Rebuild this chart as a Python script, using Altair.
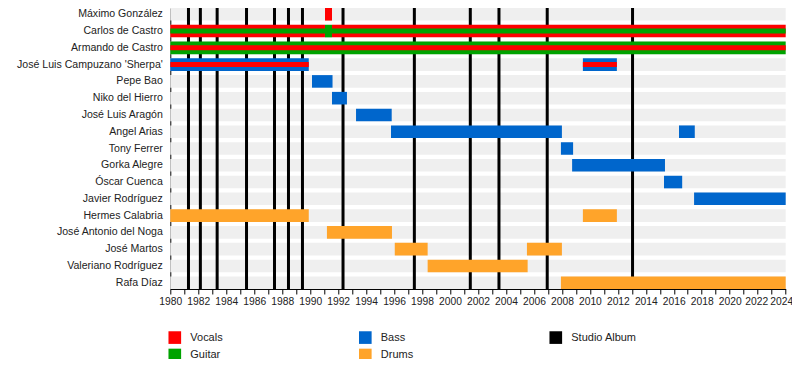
import altair as alt
import pandas as pd

members = [
    "Máximo González", "Carlos de Castro", "Armando de Castro",
    "José Luis Campuzano 'Sherpa'", "Pepe Bao", "Niko del Hierro",
    "José Luis Aragón", "Angel Arias", "Tony Ferrer", "Gorka Alegre",
    "Óscar Cuenca", "Javier Rodríguez", "Hermes Calabria",
    "José Antonio del Noga", "José Martos", "Valeriano Rodríguez", "Rafa Díaz",
]

# main (full height) bars
bar_member = [
    "Máximo González", "Carlos de Castro", "Carlos de Castro", "Carlos de Castro",
    "Armando de Castro", "José Luis Campuzano 'Sherpa'", "José Luis Campuzano 'Sherpa'",
    "Pepe Bao", "Niko del Hierro", "José Luis Aragón", "Angel Arias", "Angel Arias",
    "Tony Ferrer", "Gorka Alegre", "Óscar Cuenca", "Javier Rodríguez",
    "Hermes Calabria", "Hermes Calabria", "José Antonio del Noga",
    "José Martos", "José Martos", "Valeriano Rodríguez", "Rafa Díaz",
]
bar_role = [
    "Vocals", "Vocals", "Guitar", "Vocals",
    "Guitar", "Bass", "Bass",
    "Bass", "Bass", "Bass", "Bass", "Bass",
    "Bass", "Bass", "Bass", "Bass",
    "Drums", "Drums", "Drums",
    "Drums", "Drums", "Drums", "Drums",
]
bar_start = [
    1991.06, 1980.0, 1991.06, 1991.56,
    1980.0, 1980.0, 2009.5,
    1990.13, 1991.56, 1993.28, 1995.78, 2016.37,
    2007.93, 2008.73, 2015.3, 2017.45,
    1980.0, 2009.5, 1991.2,
    1996.05, 2005.5, 1998.4, 2007.93,
]
bar_end = [
    1991.56, 1991.06, 1991.56, 2024.0,
    2024.0, 1989.9, 2011.93,
    1991.6, 1992.63, 1995.83, 2008.0, 2017.5,
    2008.8, 2015.37, 2016.6, 2024.0,
    1989.9, 2011.93, 1995.85,
    1998.4, 2008.0, 2005.55, 2024.0,
]

# secondary (thin, centred) bars
thin_member = [
    "Carlos de Castro", "Armando de Castro",
    "José Luis Campuzano 'Sherpa'", "José Luis Campuzano 'Sherpa'",
]
thin_role = ["Guitar", "Vocals", "Vocals", "Vocals"]
thin_start = [1980.0, 1980.0, 1980.0, 2009.5]
thin_end = [2024.0, 2024.0, 1989.9, 2011.93]

albums = [1981.3, 1982.15, 1983.35, 1985.45, 1987.45, 1988.45, 1989.45,
          1992.35, 1997.45, 2001.45, 2003.5, 2006.95, 2013.05]

roles = ["Vocals", "Guitar", "Bass", "Drums", "Studio Album"]
role_colors = ["#ff0000", "#00a300", "#0066cc", "#ffa42a", "#000000"]

year_start, year_end = 1980, 2024
label_years = list(range(year_start, year_end + 1, 2))
tick_years = list(range(year_start, year_end + 1))

bg_df = pd.DataFrame({"member": members, "start": year_start, "end": year_end})
bar_df = pd.DataFrame({"member": bar_member, "role": bar_role, "start": bar_start, "end": bar_end})
thin_df = pd.DataFrame({"member": thin_member, "role": thin_role, "start": thin_start, "end": thin_end})
album_df = pd.DataFrame({"year": albums, "role": "Studio Album"})

FONT = "Liberation Sans"

x_scale = alt.Scale(domain=[year_start, year_end], nice=False, zero=False)
y_scale = alt.Scale(paddingInner=0.25, paddingOuter=0.0)
color_scale = alt.Scale(domain=roles, range=role_colors)

x_axis = alt.Axis(
    values=tick_years,
    labelExpr="indexof(" + str(label_years) + ", datum.value) >= 0 ? datum.label : ''",
    format="d", labelOverlap=False, labelBound=False, labelFlush=False,
    labelOffset={"condition": [
        {"test": "datum.value == %d" % year_end, "value": -4.5},
        {"test": "datum.value == %d" % (year_end - 2), "value": -1.5},
    ], "value": 0},
    grid=False, title=None,
    tickColor="#000000", domainColor="#000000", tickSize=5,
    labelFont=FONT, labelFontSize=10.3, labelColor="#222222", labelPadding=3,
)
y_axis = alt.Axis(
    title=None, ticks=False, domainColor="#000000", labelPadding=8,
    labelFont=FONT, labelFontSize=10.6, labelColor="#222222", labelLimit=300,
)

legend = alt.Legend(
    title=None, orient="none", legendX=-2, legendY=323, columns=3,
    gridAlign="all", columnPadding=102.5, rowPadding=4.5,
    symbolType="square", symbolSize=160, symbolStrokeWidth=0, symbolOpacity=1,
    labelFont=FONT, labelFontSize=11, labelColor="#222222", labelOffset=9,
    padding=0,
)

y_enc = alt.Y("member:N", sort=members, scale=y_scale, axis=y_axis)
color_enc = alt.Color("role:N", scale=color_scale, legend=legend, sort=roles)

bg = alt.Chart(bg_df).mark_bar(color="#efefef").encode(
    x=alt.X("start:Q", scale=x_scale, axis=x_axis),
    x2="end:Q",
    y=y_enc,
)

rules = alt.Chart(album_df).mark_rule(strokeWidth=3).encode(
    x=alt.X("year:Q", scale=x_scale, axis=x_axis),
    color=color_enc,
)

bars = alt.Chart(bar_df).mark_bar().encode(
    x=alt.X("start:Q", scale=x_scale, axis=x_axis),
    x2="end:Q",
    y=y_enc,
    color=color_enc,
)

thin = alt.Chart(thin_df).mark_bar(size=5).encode(
    x=alt.X("start:Q", scale=x_scale, axis=x_axis),
    x2="end:Q",
    y=y_enc,
    color=color_enc,
)

chart = alt.layer(bg, rules, bars, thin).properties(
    width=615.4, height=281,
    autosize=alt.AutoSizeParams(type="none"),
    padding={"left": 162.3, "top": 0, "right": 6, "bottom": 70},
).configure_view(stroke=None)

chart.save("out.html", embed_options={"renderer": "svg", "actions": False})
